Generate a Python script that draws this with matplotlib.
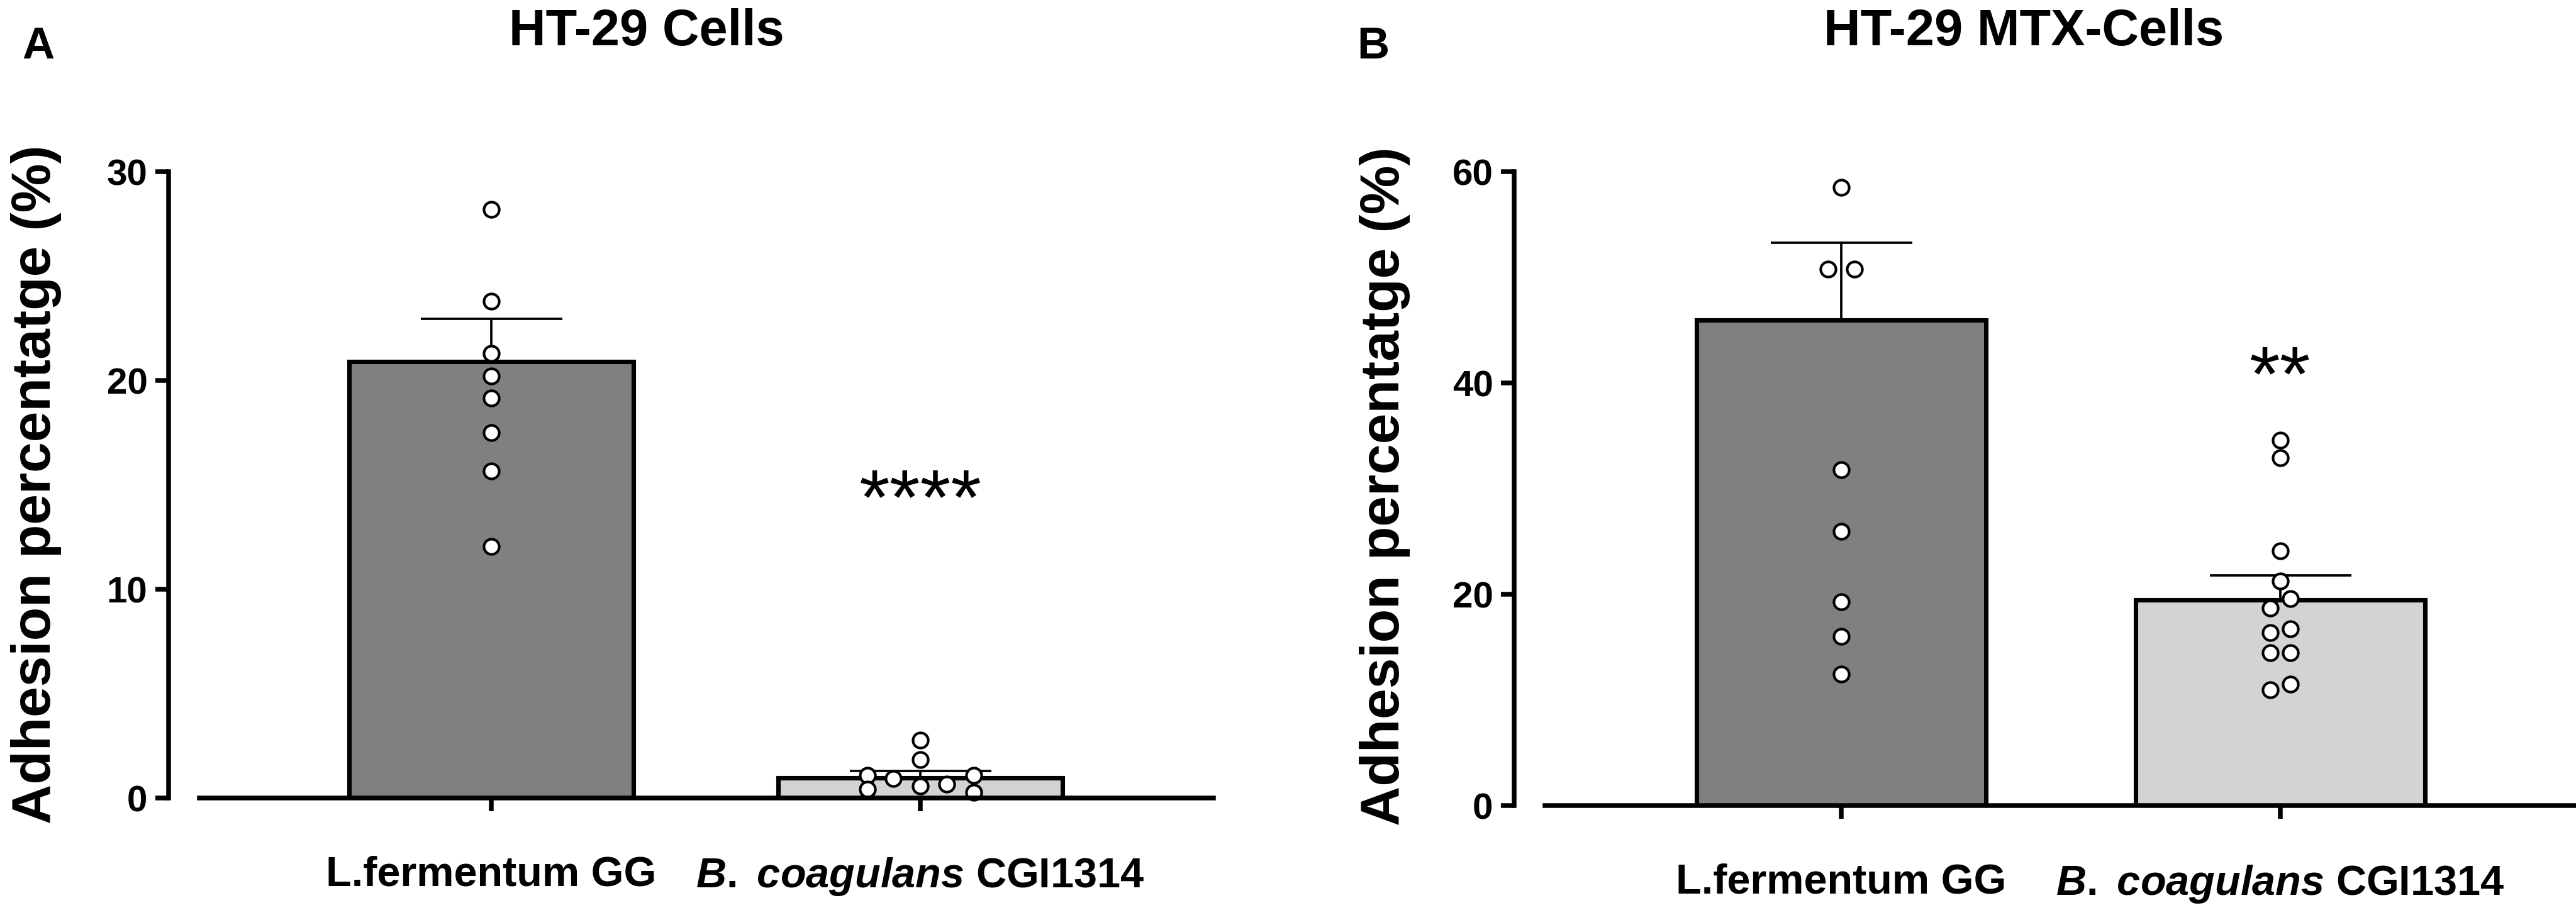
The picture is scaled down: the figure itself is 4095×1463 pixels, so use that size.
import numpy as np
import matplotlib
matplotlib.use('Agg')
import matplotlib.pyplot as plt

plt.rcParams['font.family'] = ['Liberation Sans', 'DejaVu Sans']
plt.rcParams['font.weight'] = 'bold'
plt.rcParams['mathtext.fontset'] = 'custom'
plt.rcParams['mathtext.rm'] = 'Liberation Sans:bold'
plt.rcParams['mathtext.it'] = 'Liberation Sans:italic:bold'

# data
groups = ['L.fermentum GG', r'$\mathit{B.}$ $\mathit{coagulans}$ CGI1314']

a_titles = 'HT-29 Cells'
a_means = [20.9, 0.95]
a_sem = [2.06, 0.35]
a_pts_1 = [28.2, 23.8, 21.3, 20.2, 19.15, 17.5, 15.66, 12.06]
a_pts_2 = [2.77, 1.84, 1.08, 0.42, 0.93, 0.57, 0.66, 1.08, 0.27]
a_jit_2 = [0, 0, -0.123, -0.123, -0.063, 0, 0.062, 0.125, 0.125]
a_stars = '****'
a_star_y = 15.3

b_titles = 'HT-29 MTX-Cells'
b_means = [45.94, 19.47]
b_sem = [7.34, 2.33]
b_pts_1 = [58.5, 50.8, 50.8, 31.8, 25.97, 19.3, 16.0, 12.46]
b_jit_1 = [0, -0.03, 0.03, 0, 0, 0, 0, 0]
b_pts_2 = [34.6, 32.9, 24.1, 21.25, 19.6, 18.7, 16.7, 16.35, 14.46, 14.46, 11.5, 10.96]
b_jit_2 = [0, 0, 0, 0, 0.023, -0.023, 0.023, -0.023, -0.023, 0.023, 0.023, -0.023]
b_stars = '**'
b_star_y = 42.6

colors = ['#808080', '#d3d3d3']

fig = plt.figure(figsize=(13.65, 4.8767), dpi=300)


def panel(rect, xlim, width, ymax, yticks, means, sem, pts, jits, stars, star_y):
    ax = fig.add_axes(rect)
    x = np.arange(2)
    ax.bar(x, means, width=width, color=colors, edgecolor='black', linewidth=1.7, zorder=2)
    ax.errorbar(x, means, yerr=[[0, 0], sem], fmt='none', ecolor='black',
                elinewidth=0.9, capsize=27, capthick=0.9, zorder=3, clip_on=False)
    for i in range(2):
        ax.plot(x[i] + np.array(jits[i]), pts[i], 'o', ms=5.8, mfc='white', mec='black',
                mew=1.0, zorder=4, clip_on=False)
    ax.annotate(stars, xy=(1, star_y), xytext=(0, -17.3), textcoords='offset points',
                ha='center', va='baseline', fontsize=30, fontweight='normal')
    ax.set_xlim(*xlim)
    ax.set_ylim(0, ymax)
    ax.set_yticks(yticks)
    ax.set_xticks(x)
    ax.set_xticklabels(groups, fontsize=16, fontweight='bold')
    for s in ['top', 'right']:
        ax.spines[s].set_visible(False)
    ax.spines['left'].set_position(('outward', 11.8))
    ax.spines['left'].set_bounds(0, ymax)
    ax.spines['left'].set_linewidth(1.8)
    ax.spines['bottom'].set_linewidth(1.8)
    ax.spines['bottom'].set_zorder(5)
    ax.tick_params(axis='y', length=5, width=1.8, labelsize=14, pad=3)
    ax.tick_params(axis='x', length=5, width=1.8, pad=17)
    for lab in ax.get_yticklabels():
        lab.set_fontweight('bold')
    return ax


panel([0.07741, 0.13260, 0.39365, 0.68079], (-0.680, 1.683), 0.663, 30, [0, 10, 20, 30],
      a_means, a_sem, [a_pts_1, a_pts_2], [[0] * len(a_pts_1), a_jit_2], a_stars, a_star_y)
panel([0.59976, 0.12440, 0.39999, 0.68899], (-0.675, 1.672), 0.658, 60, [0, 20, 40, 60],
      b_means, b_sem, [b_pts_1, b_pts_2], [b_jit_1, b_jit_2], b_stars, b_star_y)

# titles, panel letters, y labels
fig.text(1028 / 4095, 1 - 72 / 1463, a_titles, ha='center', va='baseline', fontsize=19.5, fontweight='bold')
fig.text(3217 / 4095, 1 - 72 / 1463, b_titles, ha='center', va='baseline', fontsize=19.5, fontweight='bold')
fig.text(61 / 4095, 1 - 93 / 1463, 'A', ha='center', va='baseline', fontsize=17, fontweight='bold')
fig.text(2183 / 4095, 1 - 93 / 1463, 'B', ha='center', va='baseline', fontsize=17, fontweight='bold')
fig.text(57.5 / 4095, 1 - 770 / 1463, 'Adhesion percentatge (%)', rotation=90, ha='center',
         va='center', fontsize=21, fontweight='bold')
fig.text(2201 / 4095, 1 - 773 / 1463, 'Adhesion percentatge (%)', rotation=90, ha='center',
         va='center', fontsize=21, fontweight='bold')

plt.savefig('out.png', dpi=300)
